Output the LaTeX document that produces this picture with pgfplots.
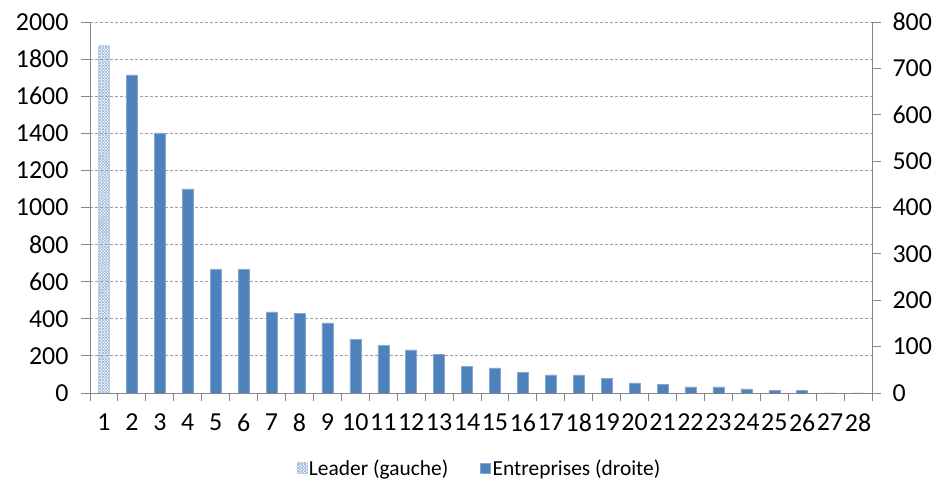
\documentclass[border=0pt]{standalone}
\usepackage{fontspec}
\setmainfont{Carlito}
\usepackage{pgfplots}
\pgfplotsset{compat=1.18}
\usetikzlibrary{patterns}

\definecolor{barblue}{HTML}{4F81BD}
\definecolor{gridgray}{HTML}{A0A0A0}
\definecolor{axisgray}{HTML}{868686}

% fine diagonal crosshatch, like the spreadsheet fill
\pgfdeclarepatternformonly{finecross}{\pgfqpoint{-1pt}{-1pt}}{\pgfqpoint{4pt}{4pt}}{\pgfqpoint{3pt}{3pt}}{
  \pgfsetlinewidth{0.55pt}
  \pgfpathmoveto{\pgfqpoint{0pt}{0pt}}\pgfpathlineto{\pgfqpoint{3pt}{3pt}}
  \pgfpathmoveto{\pgfqpoint{0pt}{3pt}}\pgfpathlineto{\pgfqpoint{3pt}{0pt}}
  \pgfusepath{stroke}}

\pgfplotsset{
  base/.style={
    scale only axis, width=782bp, height=371bp,
    at={(90bp,99bp)}, anchor=south west,
    xmin=0.5, xmax=28.5, ymin=0,
    ticklabel style={font=\fontsize{26}{26}\selectfont, text=black},
    tick align=outside,
    major tick length=9bp,
    /pgf/number format/assume math mode=true,
    /pgf/number format/1000 sep={},
    axis line style={axisgray, line width=0.9bp},
    tick style={axisgray, line width=0.9bp},
    ybar, bar width=11bp,
  },
  leader/.style={draw=barblue!40, pattern=finecross, pattern color=barblue!60},
  firms/.style={fill=barblue, draw=barblue!70!white},
}

\begin{document}
\begin{tikzpicture}
\path[use as bounding box] (0,0) rectangle (945bp,492bp);

% axe de gauche : le leader
\begin{axis}[base,
  ymax=2000, ytick={0,200,...,2000},
  axis y line*=left, axis x line*=bottom,
  yticklabel style={xshift=-9bp},
  xtick={1,...,28},
  xticklabel style={yshift=-8bp},
  major x tick style={draw=none},
  minor xtick={0.5,1.5,...,28.5},
  minor tick length=8bp,
  ymajorgrids,
  y grid style={gridgray, dash pattern=on 3bp off 2bp, line width=0.8bp},
]
\addplot[leader, bar shift=0pt, forget plot] coordinates {(1,1871)};
\end{axis}

% axe de droite : les entreprises
\begin{axis}[base,
  ymax=800, ytick={0,100,...,800},
  axis y line*=right, axis x line=none,
  yticklabel style={xshift=8bp},
  legend columns=2,
  legend image code/.code={\fill[#1] (0bp,-5bp) rectangle (10bp,5bp);},
  legend style={at={(0.498,-0.202)}, anchor=center, draw=none, fill=none,
    font=\fontsize{21.5}{24}\selectfont,
    /tikz/every even column/.append style={column sep=30bp}},
]
\addlegendimage{leader}
\addlegendentry{Leader (gauche)}
\addlegendimage{firms}
\addlegendentry{Entreprises (droite)}
\addplot[firms, bar shift=0pt, forget plot] coordinates {
  (2,686) (3,561) (4,440) (5,267) (6,267) (7,175) (8,172) (9,151)
  (10,116) (11,103) (12,93) (13,84) (14,58) (15,54) (16,45) (17,39)
  (18,39) (19,32) (20,22) (21,19) (22,13) (23,13) (24,9) (25,6) (26,6)
  (27,0) (28,0)};
\end{axis}
\end{tikzpicture}
\end{document}
